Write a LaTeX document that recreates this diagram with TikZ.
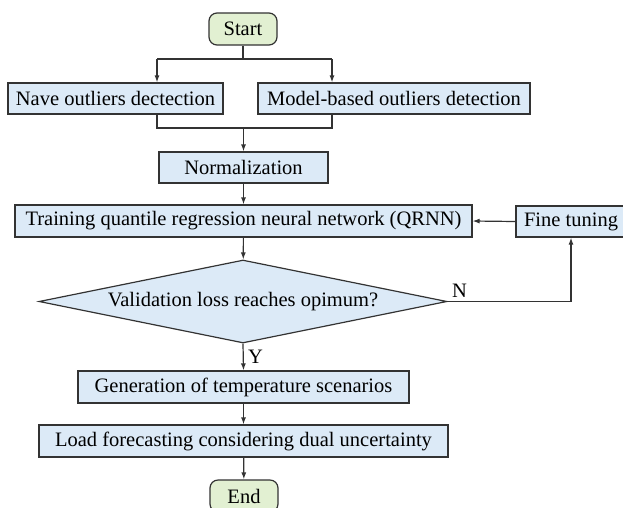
\documentclass[tikz,border=0pt]{standalone}
\usepackage{fontspec}
\setmainfont{Liberation Serif}
\usepackage{tikz}
\usetikzlibrary{arrows.meta,shapes.geometric}
\definecolor{boxblue}{RGB}{220,234,247}
\definecolor{boxgreen}{RGB}{226,240,210}
\tikzset{
  box/.style={draw=black!80,line width=1.2pt,fill=boxblue,minimum height=31pt,inner sep=0pt},
  term/.style={box,fill=boxgreen,rounded corners=8pt,minimum width=68pt,minimum height=32pt},
  arr/.style={-{Latex[length=7pt,width=5pt]}},
}
\begin{document}
\begin{tikzpicture}[x=1pt,y=-1pt,font=\fontsize{20.5}{24}\selectfont,
    line width=1.2pt,draw=black!80]
  \useasboundingbox (0,0) rectangle (623,507);
  %\draw[very thin,lightgray] (0,0) grid[step=50] (623,507);
  \node[term] (start) at (243,29) {Start};
  \node[box,minimum width=215pt] (nave) at (115.5,98.5) {Nave outliers dectection};
  \node[box,minimum width=272pt] (model) at (394,98.5) {Model-based outliers detection};
  \node[box,minimum width=169pt] (norm) at (243.5,167.5) {Normalization};
  \node[box,minimum width=457pt,minimum height=32pt] (train) at (243.5,221) {Training quantile regression neural network (QRNN)};
  \node[box,minimum width=110pt] (fine) at (571,221.5) {Fine tuning};
  \node[box,shape=diamond,aspect=4.9,minimum width=408pt,minimum height=83pt]
    (valid) at (243,301.5) {Validation loss reaches opimum?};
  \node[box,minimum width=331pt,minimum height=32pt] (gen) at (243.5,387) {Generation of temperature scenarios};
  \node[box,minimum width=409pt,minimum height=32pt] (load) at (243.5,441) {Load forecasting considering dual uncertainty};
  \node[term] (stop) at (244,496) {End};
  % split and merge
  \coordinate (sl) at (157,59);
  \coordinate (sr) at (332,59);
  \coordinate (ml) at (157,128);
  \coordinate (mr) at (332,128);
  \draw (start.south) -- (start.south |- sl);
  \draw (sl) -- (sr);
  \draw[arr] (sl) -- (sl |- nave.north);
  \draw[arr] (sr) -- (sr |- model.north);
  \draw (ml |- nave.south) -- (ml) -- (mr) -- (mr |- model.south);
  \draw[arr] (norm.north |- ml) -- (norm.north);
  % main line
  \draw[arr] (norm) -- (train);
  \draw[arr] (train) -- (valid);
  \draw[arr] (valid.south) -- node[right,xshift=1pt]{Y} (gen.north);
  \draw[arr] (gen) -- (load);
  \draw[arr] (load) -- (stop);
  % loop back
  \draw[arr] (valid.east) node[above right,inner sep=3pt,xshift=1pt]{N} -| (fine.south);
  \draw[arr] (fine.west) -- (train.east);
\end{tikzpicture}
\end{document}
